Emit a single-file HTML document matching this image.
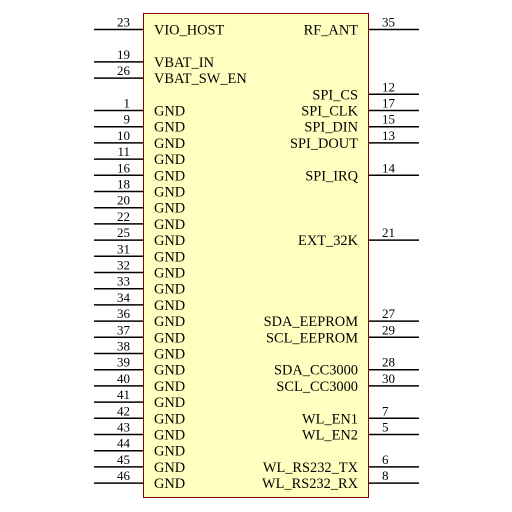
<!DOCTYPE html>
<html><head><meta charset="utf-8"><style>
html,body{margin:0;padding:0;background:#fff;}
svg{display:block;font-family:"Liberation Serif",serif;}
</style></head><body>
<svg id="s" width="512" height="512" viewBox="0 0 512 512">
<rect x="143.5" y="13.5" width="225" height="484" fill="#ffffc0" stroke="#800000" stroke-width="1"/>
</svg>
<script>
const leftPins=[["23","VIO_HOST",0],["19","VBAT_IN",2],["26","VBAT_SW_EN",3],
["1","GND",5],["9","GND",6],["10","GND",7],["11","GND",8],["16","GND",9],["18","GND",10],["20","GND",11],["22","GND",12],["25","GND",13],["31","GND",14],["32","GND",15],["33","GND",16],["34","GND",17],["36","GND",18],["37","GND",19],["38","GND",20],["39","GND",21],["40","GND",22],["41","GND",23],["42","GND",24],["43","GND",25],["44","GND",26],["45","GND",27],["46","GND",28]];
const rightPins=[["35","RF_ANT",0],["12","SPI_CS",4],["17","SPI_CLK",5],["15","SPI_DIN",6],["13","SPI_DOUT",7],["14","SPI_IRQ",9],["21","EXT_32K",13],["27","SDA_EEPROM",18],["29","SCL_EEPROM",19],["28","SDA_CC3000",21],["30","SCL_CC3000",22],["7","WL_EN1",24],["5","WL_EN2",25],["6","WL_RS232_TX",27],["8","WL_RS232_RX",28]];
const s=document.getElementById('s');
const NS='http://www.w3.org/2000/svg';
function rowY(k){return 29.5+16.2*k;}
function mk(tag,attrs,txt){const e=document.createElementNS(NS,tag);for(const k in attrs)e.setAttribute(k,attrs[k]);if(txt!==undefined)e.textContent=txt;s.appendChild(e);return e;}
leftPins.forEach(p=>{
 const y=rowY(p[2]);
 const l=mk('line',{x1:94,x2:143,y1:y,y2:y,stroke:'#000','stroke-width':1.5});
 
 
 const n=mk('text',{x:130,y:y-3,'text-anchor':'end','font-size':13,fill:'#000'},p[0]);
 
 
 const t=mk('text',{x:154,y:y+5,'font-size':14.4,fill:'#000'},p[1]);
 
 
});
rightPins.forEach(p=>{
 const y=rowY(p[2]);
 const l=mk('line',{x1:369,x2:419,y1:y,y2:y,stroke:'#000','stroke-width':1.5});
 
 
 const n=mk('text',{x:382,y:y-3,'font-size':13,fill:'#000'},p[0]);
 
 
 const t=mk('text',{x:358,y:y+5,'text-anchor':'end','font-size':14.4,fill:'#000'},p[1]);
 
 
});
</script>
</body></html>
